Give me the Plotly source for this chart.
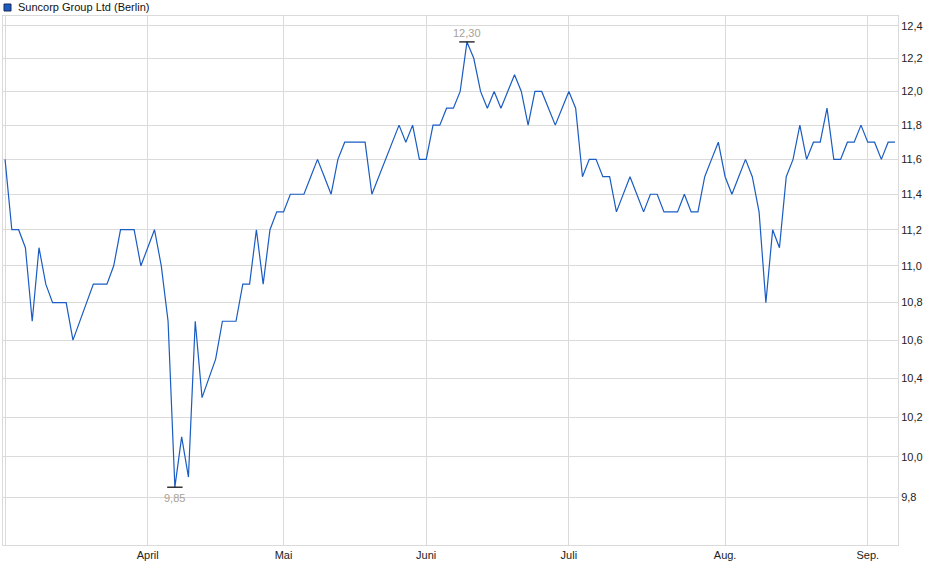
import math
import pandas as pd
import plotly.graph_objs as go

# Berlin trading days, 3 March - 5 September 2025
holidays = ["2025-04-18", "2025-04-21", "2025-05-01"]
days = [d.strftime("%Y-%m-%d") for d in pd.bdate_range("2025-03-03", "2025-09-05")
        if d.strftime("%Y-%m-%d") not in holidays]

# closing prices in EUR
prices = [
    11.6, 11.2, 11.2, 11.1, 10.7, 11.1, 10.9, 10.8, 10.8, 10.8,   # März
    10.6, 10.7, 10.8, 10.9, 10.9, 10.9, 11.0, 11.2, 11.2, 11.2,
    11.0,
    11.1, 11.2, 11.0, 10.7, 9.85, 10.1, 9.9, 10.7, 10.3, 10.4,    # April
    10.5, 10.7, 10.7, 10.7, 10.9, 10.9, 11.2, 10.9, 11.2, 11.3,
    11.3, 11.4, 11.4, 11.4, 11.5, 11.6, 11.5, 11.4, 11.6, 11.7,   # Mai
    11.7, 11.7, 11.7, 11.4, 11.5, 11.6, 11.7, 11.8, 11.7, 11.8,
    11.6,
    11.6, 11.8, 11.8, 11.9, 11.9, 12.0, 12.3, 12.2, 12.0, 11.9,   # Juni
    12.0, 11.9, 12.0, 12.1, 12.0, 11.8, 12.0, 12.0, 11.9, 11.8,
    11.9,
    12.0, 11.9, 11.5, 11.6, 11.6, 11.5, 11.5, 11.3, 11.4, 11.5,   # Juli
    11.4, 11.3, 11.4, 11.4, 11.3, 11.3, 11.3, 11.4, 11.3, 11.3,
    11.5, 11.6, 11.7,
    11.5, 11.4, 11.5, 11.6, 11.5, 11.3, 10.8, 11.2, 11.1, 11.5,   # Aug.
    11.6, 11.8, 11.6, 11.7, 11.7, 11.9, 11.6, 11.6, 11.7, 11.7,
    11.8,
    11.7, 11.7, 11.6, 11.7, 11.7,                                 # Sep.
]

month_starts = ["2025-03-03", "2025-04-01", "2025-05-02", "2025-06-02",
                "2025-07-01", "2025-08-01", "2025-09-01"]
month_labels = ["", "April", "Mai", "Juni", "Juli", "Aug.", "Sep."]
y_ticks = [9.8, 10.0, 10.2, 10.4, 10.6, 10.8, 11.0, 11.2, 11.4, 11.6, 11.8, 12.0, 12.2, 12.4]

LINE = "#1a5cc2"
GRID = "#dadada"
NOTE = "#a8a096"
FONT = "Liberation Sans"

hi = prices.index(max(prices))
lo = prices.index(min(prices))

fig = go.Figure()

fig.add_trace(go.Scatter(
    x=days, y=prices, mode="lines",
    line=dict(color=LINE, width=1.2),
    hoverinfo="x+y", showlegend=False,
))

# small black markers at the high and the low
fig.add_trace(go.Scatter(
    x=[days[hi], days[lo]], y=[prices[hi], prices[lo]], mode="markers",
    marker=dict(symbol="line-ew", size=11, line=dict(color="black", width=1.2)),
    hoverinfo="skip", showlegend=False,
))

fig.add_annotation(x=days[hi], y=math.log10(prices[hi]),
                   text=f"{prices[hi]:.2f}".replace(".", ","), showarrow=False,
                   yshift=9, font=dict(color=NOTE, size=11, family=FONT))
fig.add_annotation(x=days[lo], y=math.log10(prices[lo]),
                   text=f"{prices[lo]:.2f}".replace(".", ","), showarrow=False,
                   yshift=-11, font=dict(color=NOTE, size=11, family=FONT))

# legend-like header
fig.add_shape(type="rect", xref="paper", yref="paper",
              x0=1 / 895, x1=8 / 895, y0=534 / 529, y1=541 / 529,
              fillcolor=LINE, line=dict(color="#1a2a50", width=1))
fig.add_annotation(xref="paper", yref="paper", x=13 / 895, y=538 / 529,
                   xanchor="left", yanchor="middle", showarrow=False,
                   text="Suncorp Group Ltd (Berlin)",
                   font=dict(color="#111111", size=11, family=FONT))

fig.update_layout(
    width=940, height=579,
    margin=dict(l=3, r=42, t=16, b=34),
    paper_bgcolor="white", plot_bgcolor="white",
    separators=",.",
    font=dict(family=FONT, size=11, color="#222222"),
    hovermode="x",
)

fig.update_xaxes(
    type="category",
    range=[-0.3, len(days) - 1 + 0.45],
    tickmode="array", tickvals=month_starts, ticktext=month_labels,
    showgrid=True, gridcolor=GRID, gridwidth=1,
    showline=True, linecolor=GRID, mirror=True,
    ticks="", tickangle=0, zeroline=False,
)

fig.update_yaxes(
    type="log", side="right",
    range=[math.log10(9.57), math.log10(12.46)],
    tickmode="array", tickvals=y_ticks, tickformat=".1f",
    showgrid=True, gridcolor=GRID, gridwidth=1,
    showline=True, linecolor=GRID, mirror=True,
    ticks="", zeroline=False,
)

# page body has an 8px default margin; drop it so the chart sits at the corner
fig.write_html("out.html", config={"displayModeBar": False},
               post_script="document.body.style.margin='0';")
